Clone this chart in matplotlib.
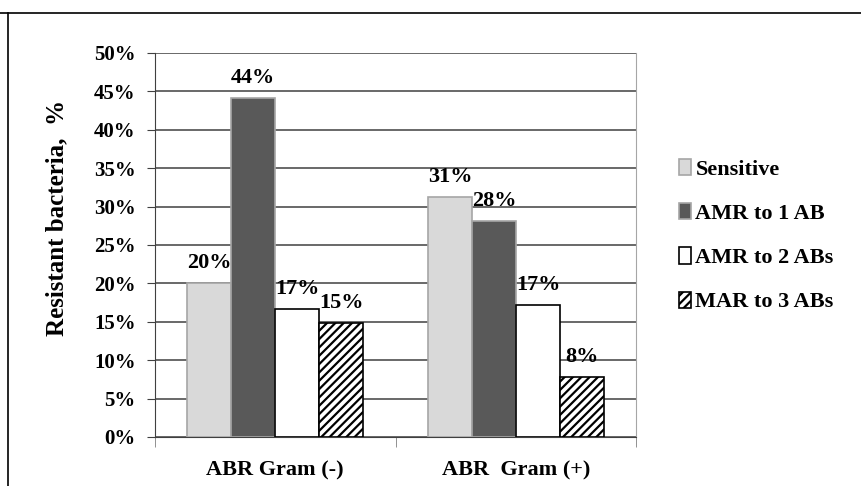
import matplotlib.pyplot as plt
import numpy as np
from matplotlib.patches import Patch

plt.rcParams['font.family'] = ['Liberation Serif', 'DejaVu Serif']
plt.rcParams['font.weight'] = 'bold'
plt.rcParams['hatch.linewidth'] = 1.6

groups = ['ABR Gram (-)', 'ABR  Gram (+)']
series = ['Sensitive', 'AMR to 1 AB', 'AMR to 2 ABs', 'MAR to 3 ABs']
sensitive = [20.0, 31.2]
amr1 = [44.2, 28.1]
amr2 = [16.6, 17.2]
mar3 = [14.8, 7.8]
labels = [['20%', '31%'], ['44%', '28%'], ['17%', '17%'], ['15%', '8%']]

values = [sensitive, amr1, amr2, mar3]
faces = ['#d9d9d9', '#595959', 'white', 'white']
edges = ['#a6a6a6', '#a6a6a6', 'black', 'black']
hatches = [None, None, None, '////']

fig = plt.figure(figsize=(8.61, 4.86), dpi=100)
# outer frame of the original chart
fig.add_artist(plt.Line2D([0, 1], [0.973, 0.973], color='black', lw=1.2))
fig.add_artist(plt.Line2D([0.009, 0.009], [0, 0.973], color='black', lw=1.2))

ax = fig.add_axes([0.180, 0.101, 0.559, 0.790])
x = np.arange(len(groups))
w = 0.183
for i, vals in enumerate(values):
    pos = x + (i - 1.5) * w
    bars = ax.bar(pos, vals, w, color=faces[i], edgecolor=edges[i],
                  hatch=hatches[i], lw=1.2, zorder=3)
    for j, b in enumerate(bars):
        ax.text(b.get_x() + b.get_width() / 2, vals[j] + 1.3, labels[i][j],
                ha='center', va='bottom', fontsize=16, fontweight='bold', zorder=4)

ax.set_xlim(-0.5, 1.5)
ax.set_ylim(0, 50)
ax.set_yticks(np.arange(0, 51, 5))
ax.set_yticklabels([f'{v}%' for v in range(0, 51, 5)], fontsize=15, fontweight='bold')
ax.yaxis.grid(True, color='#404040', lw=1.1, zorder=0)
ax.set_axisbelow(True)
ax.set_xticks(x)
ax.set_xticklabels(groups, fontsize=16, fontweight='bold')
ax.tick_params(axis='x', length=0, pad=17)
ax.set_xticks([-0.5, 0.5, 1.5], minor=True)
ax.tick_params(axis='x', which='minor', length=7, color='#808080')
ax.tick_params(axis='y', length=6, color='#404040', pad=8)
ax.spines['top'].set_visible(False)
ax.spines['right'].set_color('#a6a6a6')
ax.spines['left'].set_color('#404040')
ax.spines['bottom'].set_color('#404040')
ax.set_ylabel('Resistant bacteria,  %', fontsize=18, fontweight='bold')
ax.yaxis.set_label_coords(-0.18, 0.57)

handles = [Patch(facecolor=faces[i], edgecolor='black' if i > 1 else edges[i],
                 hatch=hatches[i], lw=1.2) for i in range(4)]
fig.legend(handles, series, loc='center left', bbox_to_anchor=(0.765, 0.515),
           frameon=False, prop={'weight': 'bold', 'size': 16},
           handlelength=0.55, handleheight=0.75, handletextpad=0.2, labelspacing=1.05)

fig.savefig('out.png', dpi=100)
